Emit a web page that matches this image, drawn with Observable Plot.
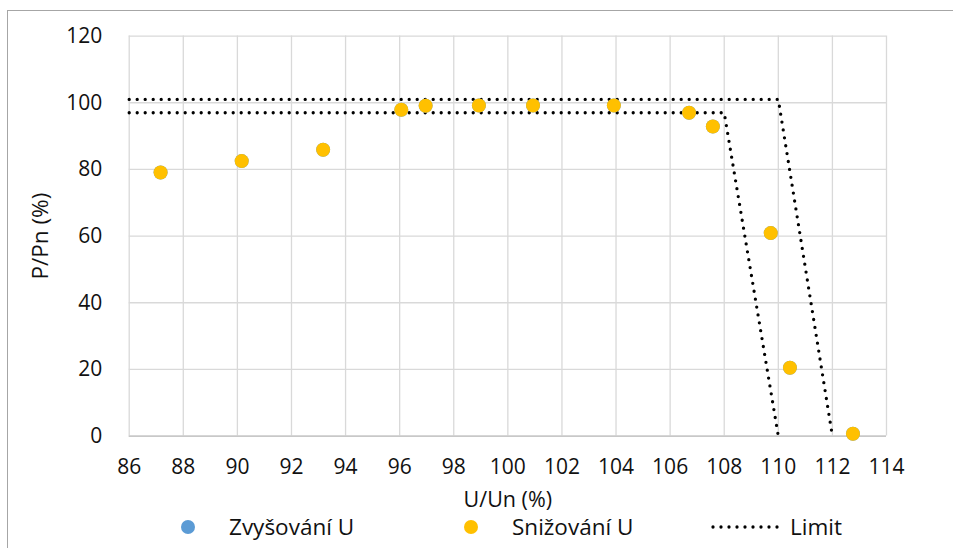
<!DOCTYPE html>
<html>
<head>
<meta charset="utf-8">
<script src="https://cdn.jsdelivr.net/npm/d3@7"></script>
<script src="https://cdn.jsdelivr.net/npm/@observablehq/plot@0.6"></script>
<style>
  html, body { margin: 0; padding: 0; background: #fff; overflow: hidden; }
  body { width: 953px; height: 548px; position: relative; font-family: "Open Sans", sans-serif; }
  #frame { position: absolute; left: 7px; top: 10px; width: 980px; height: 580px; border: 1px solid #a6a6a6; box-sizing: border-box; pointer-events: none; }
  #chart { position: absolute; left: 0; top: 0; }
  #legend { position: absolute; left: 0; top: 516px; width: 953px; height: 32px; font-size: 22.5px; color: #111; }
  .dot { position: absolute; width: 14px; height: 14px; border-radius: 7px; top: 3.5px; }
  .lbl { position: absolute; top: -4.5px; white-space: nowrap; line-height: 30px; }
</style>
</head>
<body>
<div id="chart"></div>
<div id="legend"></div>
<div id="frame"></div>
<script>
// Data
const uDecrease = [87.16, 90.16, 93.17, 96.06, 96.96, 98.93, 100.93, 103.92, 106.7, 107.58, 109.72, 110.43, 112.76];
const pDecrease = [79.1, 82.5, 85.9, 97.9, 99.1, 99.2, 99.2, 99.2, 97.0, 92.9, 60.9, 20.5, 0.7];
// "Zvyšování U" points lie under the yellow ones (hidden)
const uIncrease = uDecrease;
const pIncrease = pDecrease;
// Limit envelope (two dotted polylines)
const limitGroup = ["upper", "upper", "upper", "lower", "lower", "lower"];
const limitU = [86, 110, 112, 86, 108, 110];
const limitP = [101, 101, 0, 97, 97, 0];

const xTicks = [86, 88, 90, 92, 94, 96, 98, 100, 102, 104, 106, 108, 110, 112, 114];
const yTicks = [0, 20, 40, 60, 80, 100, 120];
const seriesNames = ["Zvyšování U", "Snižování U", "Limit"];
const seriesColors = ["#5B9BD5", "#FFC000", "#000000"];
const xTitle = "U/Un (%)";
const yTitle = "P/Pn (%)";

const inc = uIncrease.map((u, i) => ({u, p: pIncrease[i]}));
const dec = uDecrease.map((u, i) => ({u, p: pDecrease[i]}));
const lim = limitU.map((u, i) => ({u, p: limitP[i], g: limitGroup[i]}));

const W = 953, H = 516;
const chart = Plot.plot({
  width: W,
  height: H,
  marginLeft: 128.7,
  marginRight: 67,
  marginTop: 35.6,
  marginBottom: H - 435.6,
  style: {fontFamily: "'Open Sans', sans-serif", fontSize: "21px", color: "#111", background: "transparent"},
  x: {domain: [86, 114]},
  y: {domain: [0, 120]},
  marks: [
    Plot.gridX(xTicks, {stroke: "#d9d9d9", strokeOpacity: 1, strokeWidth: 1.3}),
    Plot.gridY(yTicks, {stroke: "#d9d9d9", strokeOpacity: 1, strokeWidth: 1.3}),
    Plot.ruleY([0], {stroke: "#bfbfbf", strokeWidth: 1.3}),
    Plot.axisX(xTicks, {tickSize: 0, tickPadding: 23, label: null, fontSize: 21, fill: "#111"}),
    Plot.axisY(yTicks, {tickSize: 0, tickPadding: 27, label: null, fontSize: 21, fill: "#111"}),
    Plot.text([xTitle], {frameAnchor: "bottom", lineAnchor: "middle", textAnchor: "middle", dy: 64, fontSize: 21.5, fill: "#111"}),
    Plot.text([yTitle], {frameAnchor: "left", lineAnchor: "middle", textAnchor: "middle", dx: -88.7, rotate: -90, fontSize: 22.5, fill: "#111"}),
    Plot.line(lim, {x: "u", y: "p", z: "g", stroke: seriesColors[2], strokeWidth: 3.3, strokeDasharray: "0 8", strokeLinecap: "round", strokeLinejoin: "round"}),
    Plot.dot(inc, {x: "u", y: "p", r: 7, fill: seriesColors[0], stroke: "none"}),
    Plot.dot(dec, {x: "u", y: "p", r: 7, fill: seriesColors[1], stroke: "none"})
  ]
});
document.getElementById("chart").appendChild(chart);

// Legend below the SVG
const legend = document.getElementById("legend");
const legendPos = [
  {dotX: 188, textX: 229},
  {dotX: 471, textX: 512},
  {lineX0: 713, lineX1: 783, textX: 790}
];
seriesNames.forEach((name, i) => {
  const pos = legendPos[i];
  if (i < 2) {
    const d = document.createElement("div");
    d.className = "dot";
    d.style.left = (pos.dotX - 7) + "px";
    d.style.background = seriesColors[i];
    legend.appendChild(d);
  } else {
    const svg = d3.create("svg").attr("width", pos.lineX1 - pos.lineX0 + 4).attr("height", 10)
      .style("position", "absolute").style("left", (pos.lineX0 - 2) + "px").style("top", "5.5px");
    svg.append("line").attr("x1", 2).attr("x2", pos.lineX1 - pos.lineX0 + 2).attr("y1", 5).attr("y2", 5)
      .attr("stroke", seriesColors[2]).attr("stroke-width", 3.3).attr("stroke-dasharray", "0 8").attr("stroke-linecap", "round");
    legend.appendChild(svg.node());
  }
  const t = document.createElement("div");
  t.className = "lbl";
  t.style.left = pos.textX + "px";
  t.textContent = name;
  legend.appendChild(t);
});
</script>
</body>
</html>
